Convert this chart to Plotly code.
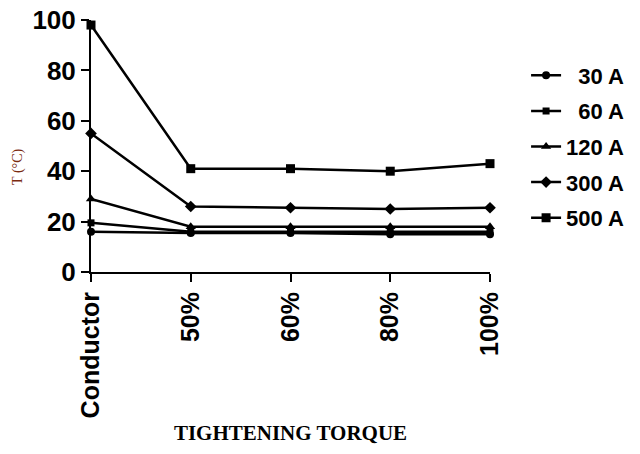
import plotly.graph_objects as go

categories = ["Conductor", "50%", "60%", "80%", "100%"]
series_names = ["\u200730 A", "\u200760 A", "120 A", "300 A", "500 A"]
t_30a = [16, 15.5, 15.5, 15, 15]
t_60a = [19.5, 16, 16, 16, 16]
t_120a = [29, 18, 18, 18, 18]
t_300a = [55, 26, 25.5, 25, 25.5]
t_500a = [98, 41, 41, 40, 43]
y_ticks = [0, 20, 40, 60, 80, 100]

series_values = [t_30a, t_60a, t_120a, t_300a, t_500a]
symbols = ["circle", "square", "triangle-up", "diamond", "square"]
sizes = [8, 7, 9, 9, 9]

fig = go.Figure()
for name, vals, sym, sz in zip(series_names, series_values, symbols, sizes):
    fig.add_trace(go.Scatter(
        x=categories, y=vals, name=name, mode="lines+markers",
        line=dict(color="black", width=2.5),
        marker=dict(symbol=sym, size=sz, color="black"),
        legendgroup=name, cliponaxis=False,
    ))

fig.update_layout(
    width=640, height=454,
    margin=dict(l=91, r=150, t=20, b=182),
    plot_bgcolor="white", paper_bgcolor="white",
    showlegend=True,
    legend=dict(
        xref="container", yref="container", x=0.822, y=0.88,
        xanchor="left", yanchor="top",
        font=dict(family="Liberation Sans, Arial", size=22, color="black", weight="bold"),
        traceorder="grouped", tracegroupgap=4,
        itemwidth=30, bgcolor="rgba(0,0,0,0)",
    ),
    xaxis=dict(
        type="category", categoryorder="array", categoryarray=categories,
        range=[0, 4], showgrid=False, zeroline=False, automargin=False,
        showline=True, linecolor="black", linewidth=2,
        ticks="outside", ticklen=8, tickwidth=2, tickcolor="black",
        tickangle=-90,
        tickfont=dict(family="Liberation Sans, Arial", size=25, color="black", weight="bold"),
        title=dict(text="TIGHTENING TORQUE", standoff=8,
                   font=dict(family="Liberation Serif, Times New Roman", size=21, color="black", weight="bold")),
    ),
    yaxis=dict(
        range=[0, 100], tickvals=y_ticks, showgrid=False, zeroline=False, automargin=False,
        showline=True, linecolor="black", linewidth=2,
        ticks="outside", ticklen=8, tickwidth=2, tickcolor="black",
        tickfont=dict(family="Liberation Sans, Arial", size=26, color="black", weight="bold"),
    ),
    annotations=[dict(
        text="T (°C)", xref="paper", yref="paper", x=-0.183, y=0.417,
        xanchor="center", yanchor="middle",
        showarrow=False, textangle=-90,
        font=dict(family="Liberation Serif, Times New Roman", size=14, color="#7a2a10"),
    )],
)

fig.write_html("out.html")
